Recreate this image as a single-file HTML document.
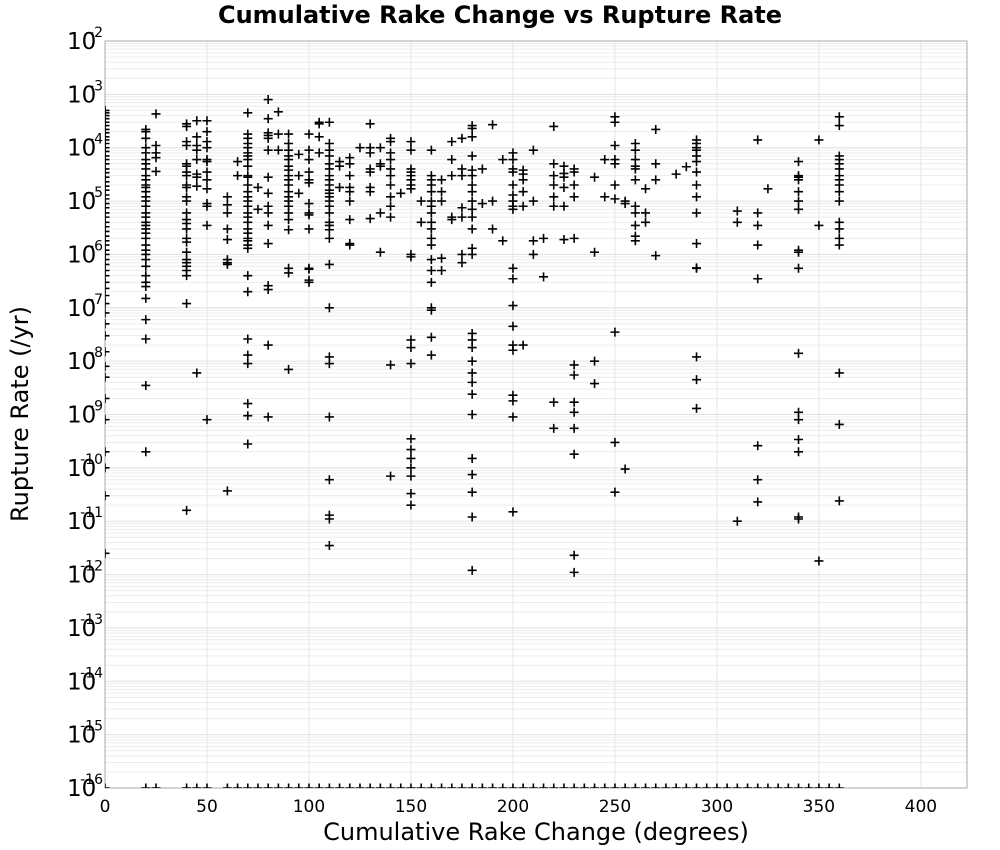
<!DOCTYPE html>
<html><head><meta charset="utf-8"><style>
body{margin:0;background:#fff;}
svg{display:block;font-family:"DejaVu Sans","Liberation Sans",sans-serif;}
</style></head><body>
<svg id="chart" width="1000" height="850">
<text x="500" y="23" text-anchor="middle" font-size="24" font-weight="bold">Cumulative Rake Change vs Rupture Rate</text>
<text x="536" y="840" text-anchor="middle" font-size="24">Cumulative Rake Change (degrees)</text>
<text transform="translate(28,414) rotate(-90)" text-anchor="middle" font-size="24">Rupture Rate (/yr)</text>
<defs><clipPath id="pc"><rect x="105" y="41" width="862" height="747"/></clipPath></defs>
<g id="grid"></g><g id="axes"></g><g id="pts" clip-path="url(#pc)"></g>
</svg>
<script>
const xTicks=[0,50,100,150,200,250,300,350,400];
const yExps=[-2,-3,-4,-5,-6,-7,-8,-9,-10,-11,-12,-13,-14,-15,-16];
const colX=[0,20,25,40,45,50,60,65,70,75,80,85,90,95,100,105,110,115,120,125,130,135,140,145,150,155,160,165,170,175,180,185,190,195,200,205,210,215,220,225,230,240,245,250,255,260,265,270,280,285,290,310,320,325,340,350,360];
const colRates=[
[5e-4,4.5e-4,4e-4,3.5e-4,3e-4,2.6e-4,2.2e-4,1.9e-4,1.6e-4,1.4e-4,1.2e-4,1e-4,8.5e-5,7e-5,6e-5,5e-5,4e-5,3.4e-5,2.8e-5,2.3e-5,1.9e-5,1.6e-5,1.3e-5,1.1e-5,9e-6,7.5e-6,6e-6,5e-6,4e-6,3.3e-6,2.7e-6,2.2e-6,1.8e-6,1.5e-6,1.2e-6,1e-6,8e-7,6.5e-7,5e-7,4e-7,3e-7,2.3e-7,1.7e-7,1.2e-7,8e-8,5e-8,3e-8,1.5e-8,8e-9,5e-9,2e-9,8e-10,2e-10,1e-10,3e-11,2.5e-12],
[2.2e-4,2e-4,1.5e-4,1e-4,8e-5,6e-5,5e-5,4e-5,3e-5,2.5e-5,2e-5,1.8e-5,1.5e-5,1.2e-5,1e-5,8e-6,6e-6,5e-6,4e-6,3.5e-6,3e-6,2.5e-6,2e-6,1.5e-6,1.2e-6,1e-6,8e-7,6e-7,4e-7,3e-7,2.5e-7,1.5e-7,6e-8,2.6e-8,3.5e-9,2e-10],
[4.3e-4,1.1e-4,8e-5,6.5e-5,3.6e-5],
[2.8e-4,2.5e-4,1.3e-4,1.1e-4,5e-5,4.5e-5,3.5e-5,3e-5,2e-5,1.8e-5,1.2e-5,1e-5,6e-6,4.5e-6,3.8e-6,3e-6,2e-6,1.7e-6,1.1e-6,8e-7,7e-7,6e-7,5e-7,4e-7,1.2e-7,1.6e-11],
[3.2e-4,1.6e-4,1.1e-4,9e-5,6e-5,3.2e-5,2.8e-5,1.9e-5,6e-9],
[3.2e-4,2e-4,1.3e-4,1e-4,6e-5,5.5e-5,3.5e-5,2.5e-5,1.7e-5,9e-6,8e-6,3.5e-6,8e-10],
[1.2e-5,8.5e-6,6e-6,3e-6,1.9e-6,8e-7,7e-7,6.5e-7,3.7e-11],
[5.5e-5,3e-5],
[4.5e-4,1.8e-4,1.5e-4,1.2e-4,1e-4,8e-5,7e-5,6e-5,4.5e-5,3e-5,2.8e-5,2e-5,1.5e-5,1.2e-5,1e-5,8e-6,6e-6,5e-6,4e-6,3e-6,2.5e-6,2e-6,1.8e-6,1.5e-6,1.3e-6,4e-7,2e-7,2.6e-8,1.3e-8,9e-9,1.6e-9,9.5e-10,2.8e-10],
[1.8e-5,7e-6],
[8e-4,3.5e-4,1.9e-4,1.7e-4,1.5e-4,9e-5,2.8e-5,1.4e-5,8e-6,6e-6,3.5e-6,1.6e-6,2.6e-7,2.2e-7,2e-8,9e-10],
[4.7e-4,1.8e-4,9e-5],
[1.8e-4,1.2e-4,9e-5,7e-5,6e-5,4.5e-5,3.8e-5,3e-5,2.5e-5,2e-5,1.5e-5,1.2e-5,1e-5,8e-6,6e-6,4.5e-6,2.9e-6,5.5e-7,4.5e-7,7e-9],
[7.5e-5,3e-5,1.4e-5],
[1.8e-4,9e-5,6e-5,3.5e-5,2.5e-5,2.2e-5,9e-6,6e-6,5.5e-6,3e-6,5.5e-7,5.3e-7,3.3e-7,3e-7],
[3e-4,2.8e-4,1.6e-4,8e-5],
[3e-4,1.2e-4,9e-5,7e-5,5e-5,4e-5,3e-5,2.5e-5,2e-5,1.6e-5,1.4e-5,1.2e-5,1e-5,8e-6,6e-6,4e-6,3.5e-6,2.9e-6,2e-6,6.5e-7,1e-7,1.2e-8,9e-9,9e-10,6e-11,1.3e-11,1.1e-11,3.5e-12],
[5.5e-5,4.5e-5,1.8e-5],
[6.5e-5,5e-5,3e-5,1.8e-5,1.5e-5,1e-5,4.5e-6,1.6e-6,1.5e-6],
[1e-4],
[2.8e-4,1e-4,8e-5,4e-5,3.5e-5,1.8e-5,1.5e-5,4.7e-6],
[1e-4,5e-5,4.5e-5,6e-6,1.1e-6],
[1.5e-4,1.3e-4,8e-5,6e-5,4e-5,3e-5,2e-5,1.2e-5,8e-6,5e-6,8.5e-9,7e-11],
[1.4e-5],
[1.3e-4,9e-5,4e-5,3.5e-5,3e-5,2.5e-5,2e-5,1.7e-5,1e-6,9e-7,2.5e-8,1.8e-8,9e-9,3.5e-10,2.2e-10,1.5e-10,1e-10,7e-11,3.3e-11,2e-11],
[1e-5,4e-6],
[9e-5,3e-5,2.5e-5,2e-5,1.5e-5,1e-5,8e-6,6e-6,4e-6,3e-6,2e-6,1.5e-6,8e-7,5e-7,3e-7,1e-7,9e-8,2.8e-8,1.3e-8],
[2.5e-5,1.5e-5,1e-5,8.5e-7,5e-7],
[1.3e-4,6e-5,3e-5,5e-6,4.5e-6],
[1.5e-4,4e-5,3e-5,7.5e-6,5e-6,1e-6,7e-7],
[2.6e-4,2.3e-4,1.6e-4,7e-5,3.8e-5,3e-5,2e-5,1.5e-5,1e-5,7e-6,5e-6,3e-6,1.3e-6,1e-6,3.3e-8,2.5e-8,1.8e-8,1e-8,6e-9,4e-9,2.4e-9,1e-9,1.5e-10,7.5e-11,3.5e-11,1.2e-11,1.2e-12],
[4e-5,9e-6],
[2.7e-4,1e-5,3e-6],
[6e-5,1.8e-6],
[8e-5,6e-5,4e-5,3.5e-5,2e-5,1.3e-5,1e-5,8e-6,7e-6,5.5e-7,3.5e-7,1.1e-7,4.5e-8,2e-8,1.6e-8,2.3e-9,1.8e-9,9e-10,1.5e-11],
[3.8e-5,3.2e-5,2.5e-5,1.5e-5,8e-6,2e-8],
[9e-5,1e-5,1.8e-6,1e-6],
[2e-6,3.8e-7],
[2.5e-4,5e-5,3e-5,2e-5,1.2e-5,8e-6,1.7e-9,5.5e-10],
[4.5e-5,3.3e-5,2.8e-5,1.8e-5,8e-6,1.9e-6],
[4e-5,3.5e-5,2e-5,1.2e-5,2e-6,8.5e-9,5.5e-9,1.7e-9,1.1e-9,5.5e-10,1.8e-10,2.3e-12,1.1e-12],
[2.8e-5,1.1e-6,1e-8,3.8e-9],
[6e-5,1.2e-5],
[3.8e-4,3e-4,1.1e-4,6e-5,5e-5,2e-5,1.1e-5,3.5e-8,3e-10,3.5e-11],
[1e-5,9e-6,9.5e-11],
[1.2e-4,9e-5,6e-5,4.5e-5,4e-5,2.5e-5,8e-6,6e-6,3.5e-6,2.2e-6,1.8e-6],
[1.7e-5,6e-6,4e-6],
[2.2e-4,5e-5,2.5e-5,9.5e-7],
[3.2e-5],
[4.4e-5],
[1.4e-4,1.2e-4,1e-4,9e-5,7e-5,5.5e-5,3.5e-5,2e-5,1.2e-5,6e-6,1.6e-6,5.6e-7,5.5e-7,1.2e-8,4.5e-9,1.3e-9],
[6.5e-6,4e-6,1e-11],
[1.4e-4,6e-6,3.5e-6,1.5e-6,3.5e-7,2.6e-10,6e-11,2.3e-11],
[1.7e-5],
[5.5e-5,3e-5,2.8e-5,2.5e-5,1.5e-5,1e-5,7e-6,1.2e-6,1.1e-6,5.5e-7,1.4e-8,1.1e-9,8e-10,3.4e-10,2e-10,1.2e-11,1.1e-11],
[1.4e-4,3.5e-6,1.8e-12],
[3.8e-4,2.6e-4,7e-5,6e-5,5e-5,4e-5,3e-5,2.5e-5,2e-5,1.5e-5,1e-5,4e-6,3e-6,2e-6,1.5e-6,6e-9,6.5e-10,2.4e-11]
];
const floorX=[0,20,25,40,45,50,60,65,70,75,80,85,90,95,100,105,110,115,120,125,130,135,140,145,150,155,160,165,170,175,180,185,190,195,200,205,210,215,220,225,230,235,240,245,250,255,260,265,270,275,280,285,290,295,300,305,310,315,320,325,330,335,340,345,350,355,360];
const floorRate=1e-16;

const X0=105,X1=967,Y0=41,Y1=788;
const xs=v=>X0+v*(X1-X0)/422.6;
const ys=v=>Y0+(-2-Math.log10(v))*(Y1-Y0)/14;
const NS='http://www.w3.org/2000/svg';
function mk(t,a,p){const e=document.createElementNS(NS,t);for(const k in a)e.setAttribute(k,a[k]);p.appendChild(e);return e;}
const grid=document.getElementById('grid'),axes=document.getElementById('axes'),pts=document.getElementById('pts');
for(let d=-16;d<-2;d++){for(let m=2;m<=9;m++){const y=ys(m*Math.pow(10,d));
const l=mk('line',{x1:X0,x2:X1,y1:y,y2:y,stroke:'#ececec','stroke-width':1},grid);

}}
yExps.forEach(e=>{const y=ys(Math.pow(10,e));
const l=mk('line',{x1:X0,x2:X1,y1:y,y2:y,stroke:'#e0e0e0','stroke-width':1},grid);


const t=mk('text',{x:67,y:y+8,'font-size':23},axes);t.textContent='10';


const s=mk('text',{x:103,y:y-4,'font-size':14,'text-anchor':'end'},axes);s.textContent=String(e);

});
xTicks.forEach(v=>{const x=xs(v);
const l=mk('line',{x1:x,x2:x,y1:Y0,y2:Y1,stroke:'#e6e6e6','stroke-width':1},grid);


const t=mk('text',{x:x,y:812,'font-size':17,'text-anchor':'middle'},axes);t.textContent=String(v);

});
const fr=mk('rect',{x:X0,y:Y0,width:X1-X0,height:Y1-Y0,fill:'none',stroke:'#aaa','stroke-width':1},axes);


function plus(x,y){const p=mk('path',{d:`M${x-4.5},${y}H${x+4.5}M${x},${y-4.5}V${y+4.5}`,stroke:'#000','stroke-width':1.6},pts);

}
colX.forEach((cx,i)=>colRates[i].forEach(r=>plus(xs(cx),ys(r))));
floorX.forEach(fx=>plus(xs(fx),ys(floorRate)));
</script>
</body></html>
